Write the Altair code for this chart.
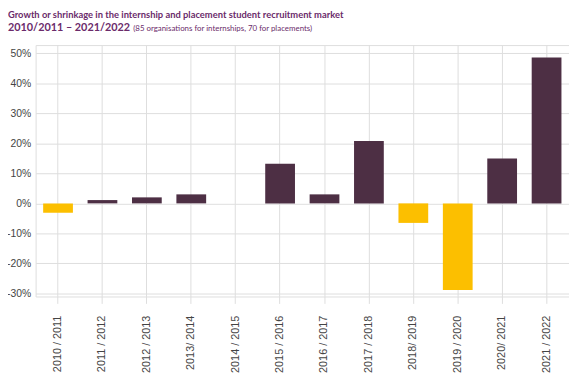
import altair as alt
import pandas as pd

years = ["2010 / 2011", "2011 / 2012", "2012 / 2013", "2013/ 2014", "2014 / 2015",
         "2015 / 2016", "2016 / 2017", "2017 / 2018", "2018/ 2019", "2019 / 2020",
         "2020/ 2021", "2021 / 2022"]
growth = [-3.1, 1.1, 2.0, 3.0, 0.0, 13.2, 3.0, 20.8, -6.5, -28.8, 14.9, 48.6]

title_line1 = "Growth or shrinkage in the internship and placement student recruitment market"
title_line2 = "2010/2011 \u2013 2021/2022"
title_note = "(85 organisations for internships, 70 for placements)"

df = pd.DataFrame({"year": years, "growth": growth})

PURPLE = "#4d2f44"
YELLOW = "#fcbf00"
TITLE = "#6b2b6b"
GRID = "#dddddd"
TFONT = "Lato"

bars = alt.Chart(df).mark_bar().encode(
    x=alt.X("year:N", sort=None,
            scale=alt.Scale(paddingInner=0.33, paddingOuter=0.17),
            axis=alt.Axis(title=None, labelAngle=-90, grid=True, bandPosition=0.5,
                          gridColor=GRID, tickColor=GRID, tickSize=7, domain=False,
                          labelPadding=12, labelFontSize=11, labelColor="#444444",
                          labelFont="Liberation Sans")),
    y=alt.Y("growth:Q",
            scale=alt.Scale(domain=[-31, 52.7], nice=False, zero=False),
            axis=alt.Axis(title=None, values=[-30, -20, -10, 0, 10, 20, 30, 40, 50],
                          labelExpr="datum.value + '%'", gridColor=GRID, ticks=False,
                          domain=False, labelPadding=5, labelFontSize=10.5,
                          labelColor="#444444", labelFont="Liberation Sans")),
    color=alt.condition(alt.datum.growth < 0, alt.value(YELLOW), alt.value(PURPLE)),
)

t1 = alt.Chart(pd.DataFrame({"t": [title_line1]})).mark_text(
    align="left", baseline="alphabetic", font=TFONT, fontSize=9.5, fontWeight="bold",
    color=TITLE).encode(text="t:N", x=alt.value(-28), y=alt.value(-27))
t2 = alt.Chart(pd.DataFrame({"t": [title_line2]})).mark_text(
    align="left", baseline="alphabetic", font=TFONT, fontSize=11, fontWeight="bold",
    color=TITLE).encode(text="t:N", x=alt.value(-28), y=alt.value(-14))
t3 = alt.Chart(pd.DataFrame({"t": [title_note]})).mark_text(
    align="left", baseline="alphabetic", font=TFONT, fontSize=8, fontWeight="normal",
    color=TITLE).encode(text="t:N", x=alt.value(99), y=alt.value(-14))

chart = alt.layer(bars, t1, t2, t3).properties(
    width=541, height=255,
    autosize=alt.AutoSizeParams(type="none"),
    padding={"left": 28, "top": 35, "right": 0, "bottom": 76},
).configure_view(stroke=None).configure(background="white")

chart.save("out.html", embed_options={"renderer": "svg", "actions": False})
